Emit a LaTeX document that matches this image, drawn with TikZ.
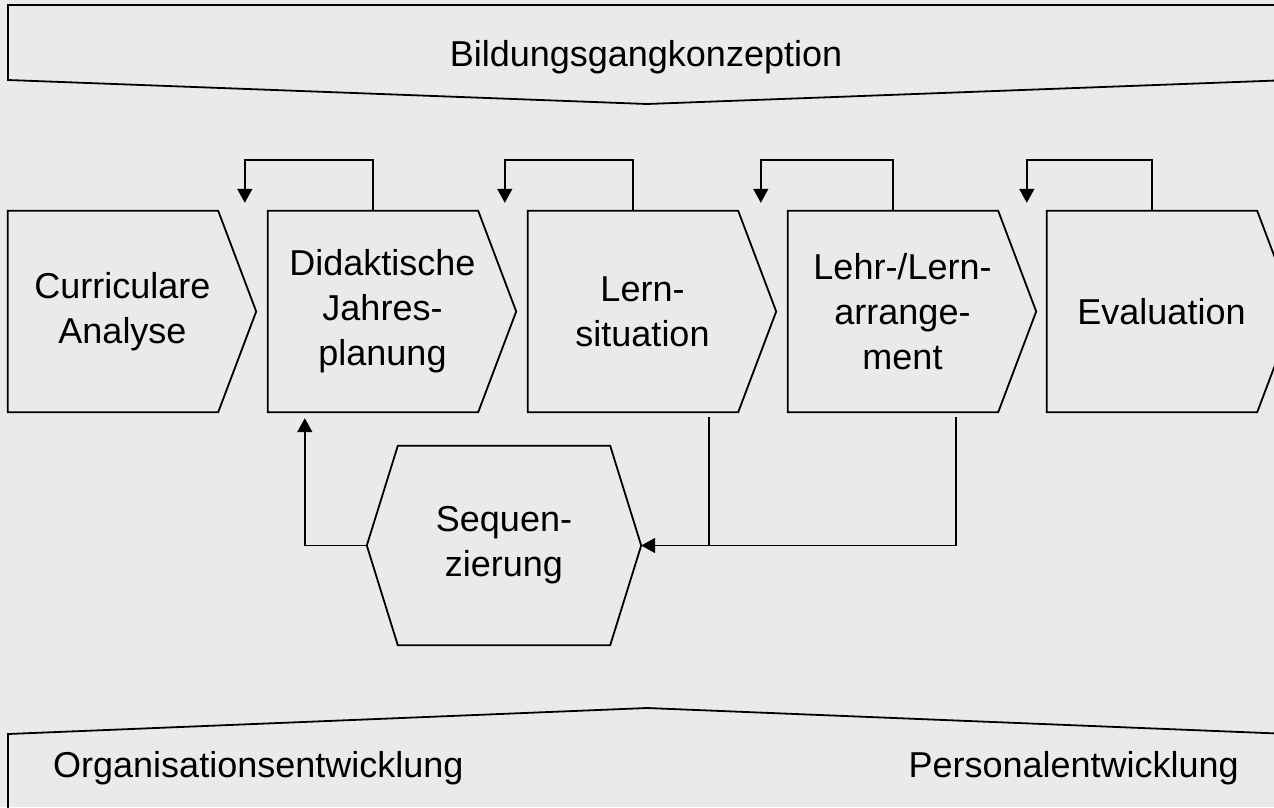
\documentclass[tikz,border=0pt]{standalone}
\usepackage{fontspec}
\setmainfont{Liberation Sans}
\usetikzlibrary{arrows.meta}
\definecolor{bg}{HTML}{EAEAEA}
\newcommand\drawchev[1]{\draw[outline] (#1.north west) -- ([xshift=-19pt]#1.north east) -- ([xshift=19pt]#1.east) -- ([xshift=-19pt]#1.south east) -- (#1.south west) -- cycle;}
\begin{document}
\begin{tikzpicture}[x=1pt,y=-1pt,
  outline/.style={line width=1.8pt, line join=miter},
  conn/.style={line width=1.6pt},
  arr/.style={conn, -{Triangle[width=15pt,length=14pt]}},
  txt/.style={inner sep=0pt, font=\fontsize{36}{45}\selectfont},
  box/.style={txt, minimum width=229pt, minimum height=201pt, align=center},
  hexbox/.style={txt, minimum width=212pt, minimum height=199pt, align=center}]
\useasboundingbox (0,0) rectangle (1274,807);
\fill[bg] (0,0) rectangle (1274,807);
\clip (0,0) rectangle (1274,807);

% banners
\draw[outline] (8,5) -- (1290,5) -- (1290,80) -- (647,104) -- (8,80) -- cycle;
\node[txt, anchor=base] (title) at (646,66) {Bildungsgangkonzeption};
\draw[outline] (8,734) -- (647,708) -- (1290,734) -- (1290,830) -- (8,830) -- cycle;
\node[txt, anchor=base west] (org) at (53,777) {Organisationsentwicklung};
\node[txt, anchor=base east] (pers) at (1239,777) {Personalentwicklung};

% chevrons
\node[box] (b1) at (122.5,311.5) {Curriculare\\Analyse};
\node[box] (b2) at (382.5,311.5) {Didaktische\\Jahres-\\planung};
\node[box] (b3) at (642.5,311.5) {Lern-\\situation};
\node[box] (b4) at (902.5,311.5) {Lehr-/Lern-\\arrange-\\ment};
\node[box] (b5) at (1161.5,311.5) {Evaluation};
\drawchev{b1}\drawchev{b2}\drawchev{b3}\drawchev{b4}\drawchev{b5}

% hexagon
\node[hexbox] (seq) at (504,545.5) {Sequen-\\zierung};
\coordinate (seqL) at ([xshift=-31pt]seq.west);
\coordinate (seqR) at ([xshift=31pt]seq.east);
\draw[outline] (seq.north west) -- (seq.north east) -- (seqR) -- (seq.south east) -- (seq.south west) -- (seqL) -- cycle;

% feedback loops on top
\draw[arr] ([xshift=-9.5pt]b2.north) -- ++(0,-51) -| ([xshift=-23pt,yshift=8pt]b2.north west);
\draw[arr] ([xshift=-9.5pt]b3.north) -- ++(0,-51) -| ([xshift=-23pt,yshift=8pt]b3.north west);
\draw[arr] ([xshift=-9.5pt]b4.north) -- ++(0,-51) -| ([xshift=-27pt,yshift=8pt]b4.north west);
\draw[arr] ([xshift=-9.5pt]b5.north) -- ++(0,-51) -| ([xshift=-20pt,yshift=8pt]b5.north west);

% sequencing connectors
\draw[arr] (seqL) -| ([xshift=37pt,yshift=-6pt]b2.south west);
\draw[conn] ([xshift=181pt,yshift=-5pt]b3.south west) |- (seqR);
\draw[arr] ([xshift=168pt,yshift=-5pt]b4.south west) |- (seqR);
\end{tikzpicture}
\end{document}
